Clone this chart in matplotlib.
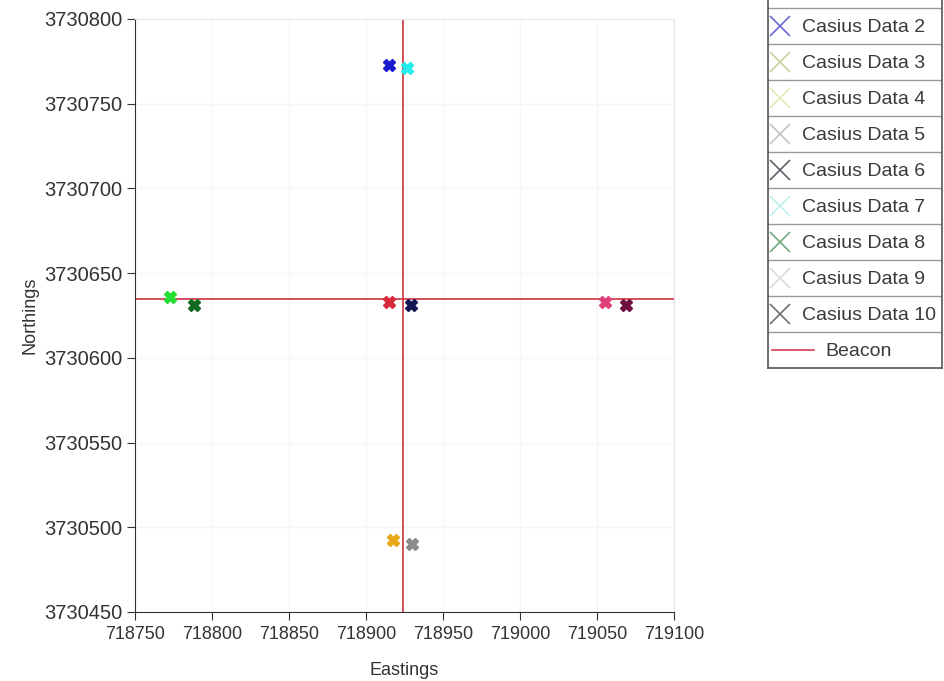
import matplotlib
matplotlib.use('Agg')
from matplotlib import pyplot as plt

plt.rcParams['font.family'] = ['Liberation Sans', 'DejaVu Sans']

# survey fixes, one per series (Casius Data 1 sits above the visible legend)
names = ['Casius Data %d' % i for i in range(1, 11)]
eastings = [718915, 718915, 718917.5, 718773, 718930, 718929, 718926.5, 718788, 719055, 719069]
northings = [3730633, 3730773, 3730492.5, 3730636, 3730490, 3730631, 3730771, 3730631, 3730633, 3730631]
colors = ['#d8283c', '#1a1acc', '#e8a818', '#22dd33', '#8c8c8c', '#141450',
          '#22eeee', '#106a20', '#e0407a', '#701040']
legend_colors = ['#e07070', '#6a6ad0', '#c8d0a0', '#e6e8b8', '#c4c4c4', '#606068',
                 '#c0f0f0', '#70a880', '#dcdcdc', '#707070']

beacon_e = 718924
beacon_n = 3730635

xticks = [718750, 718800, 718850, 718900, 718950, 719000, 719050, 719100]
yticks = [3730450, 3730500, 3730550, 3730600, 3730650, 3730700, 3730750, 3730800]

W, H = 945, 681
fig = plt.figure(figsize=(W / 100, H / 100), dpi=100)
ax = fig.add_axes([135 / W, (H - 612) / H, 539 / W, 593 / H])

for e, n, c in zip(eastings, northings, colors):
    ax.plot(e, n, marker='X', ms=8, color=c, linestyle='none', zorder=3)

ax.axvline(beacon_e, color='#cc3040', lw=1.2, zorder=2)
ax.axhline(beacon_n, color='#cc3040', lw=1.2, zorder=2)

ax.set_xlim(718750, 719100)
ax.set_ylim(3730450, 3730800)
ax.set_xticks(xticks)
ax.set_yticks(yticks)
ax.ticklabel_format(useOffset=False, style='plain')
ax.tick_params(direction='out', length=6, labelcolor='#333333', color='#333333')
ax.tick_params(axis='x', labelsize=13, pad=4)
ax.tick_params(axis='y', labelsize=14.5, pad=3)
ax.spines['top'].set_color('#e4e4e4')
ax.spines['right'].set_color('#e4e4e4')
ax.spines['left'].set_color('#333333')
ax.spines['bottom'].set_color('#333333')
ax.grid(True, color='#f6f6f6', lw=1)
ax.set_axisbelow(True)
ax.set_xlabel('Eastings', fontsize=13, color='#333333', labelpad=14)
ax.set_ylabel('Northings', fontsize=13, color='#333333', labelpad=4)

# table style legend box; the first row runs off the top of the figure
shown = list(range(1, len(names)))
row_h = 36
rows = len(shown) + 1
lax = fig.add_axes([768 / W, (H - 368) / H, 174 / W, 368 / H])
lax.set_xlim(0, 174)
lax.set_ylim(368, 0)
lax.set_xticks([])
lax.set_yticks([])
for s in lax.spines.values():
    s.set_color('#555555')
    s.set_linewidth(1.2)
lax.spines['top'].set_visible(False)
y0 = 368 - rows * row_h
lax.axhline(y0, color='#999999', lw=1)
for k, i in enumerate(shown):
    yc = y0 + (k + 0.5) * row_h
    lax.plot(12, yc, marker='x', ms=15, mew=1.2, color=legend_colors[i], linestyle='none')
    lax.text(34, yc + 1, names[i], fontsize=14, color='#3a3a3a', va='center', ha='left')
    lax.axhline(y0 + (k + 1) * row_h, color='#999999', lw=1)
yb = y0 + (rows - 0.5) * row_h
lax.plot([4, 46], [yb, yb], color='#d04050', lw=1.2)
lax.text(57, yb + 1, 'Beacon', fontsize=14, color='#3a3a3a', va='center', ha='left')

fig.savefig('out.png', dpi=100)
